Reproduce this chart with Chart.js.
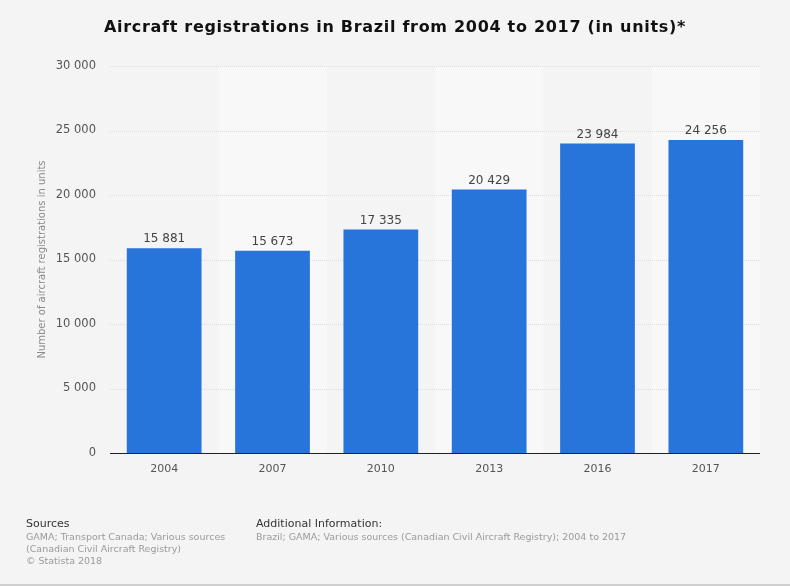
<!DOCTYPE html>
<html>
<head>
<meta charset="utf-8">
<script src="https://cdn.jsdelivr.net/npm/chart.js@4"></script>
<style>
  html, body { margin: 0; padding: 0; background: #f4f4f4; }
  #wrap { position: relative; width: 790px; height: 586px; background: #f4f4f4; font-family: "DejaVu Sans", sans-serif; }
  canvas { position: absolute; left: 0; top: 0; }
  .title { position: absolute; left: 0; top: 17px; width: 790px; text-align: center; font-weight: bold; font-size: 16px; color: #111; letter-spacing: 0.7px; }
  .foot { position: absolute; font-size: 9.5px; color: #9a9a9a; line-height: 12px; }
  .foot .h { font-size: 11px; color: #333; line-height: 14px; }
  .bottomline { position: absolute; left: 0; top: 584px; width: 790px; height: 2px; background: #cfcfcf; }
</style>
</head>
<body>
<div id="wrap">
  <canvas id="c" width="790" height="586"></canvas>
  <div class="title">Aircraft registrations in Brazil from 2004 to 2017 (in units)*</div>
  <div class="foot" style="left:26px; top:517px;"><div class="h">Sources</div>GAMA; Transport Canada; Various sources<br>(Canadian Civil Aircraft Registry)<br>© Statista 2018</div>
  <div class="foot" style="left:256px; top:517px;"><div class="h">Additional Information:</div>Brazil; GAMA; Various sources (Canadian Civil Aircraft Registry); 2004 to 2017</div>
  <div class="bottomline"></div>
</div>
<script>
const categories = ["2004", "2007", "2010", "2013", "2016", "2017"];
const registrations = [15881, 15673, 17335, 20429, 23984, 24256];
const yTicks = [0, 5000, 10000, 15000, 20000, 25000, 30000];

function fmt(v) {
  return String(v).replace(/\B(?=(\d{3})+(?!\d))/g, " ");
}

const bandsPlugin = {
  id: "bands",
  beforeDatasetsDraw(chart) {
    const { ctx, chartArea, scales } = chart;
    const x = scales.x;
    const w = (chartArea.right - chartArea.left) / categories.length;
    ctx.save();
    ctx.fillStyle = "#f8f8f8";
    categories.forEach((c, i) => {
      if (i % 2 === 1) {
        const cx = x.getPixelForValue(i);
        ctx.fillRect(cx - w / 2, chartArea.top, w, chartArea.bottom - chartArea.top);
      }
    });
    const y = scales.y;
    ctx.strokeStyle = "#dcdcdc";
    ctx.lineWidth = 1;
    ctx.setLineDash([1, 1]);
    yTicks.forEach(t => {
      if (t === 0) return;
      const py = Math.round(y.getPixelForValue(t)) + 0.5;
      ctx.beginPath();
      ctx.moveTo(chartArea.left, py);
      ctx.lineTo(chartArea.right, py);
      ctx.stroke();
    });
    ctx.restore();
  },
  afterDatasetsDraw(chart) {
    const { ctx, chartArea, scales } = chart;
    ctx.save();
    const py = Math.round(scales.y.getPixelForValue(0)) + 0.5;
    ctx.strokeStyle = "#222";
    ctx.lineWidth = 1.2;
    ctx.beginPath();
    ctx.moveTo(chartArea.left, py);
    ctx.lineTo(chartArea.right, py);
    ctx.stroke();
    ctx.fillStyle = "#444";
    ctx.font = "12px 'DejaVu Sans'";
    ctx.textAlign = "center";
    ctx.textBaseline = "bottom";
    const meta = chart.getDatasetMeta(0);
    meta.data.forEach((bar, i) => {
      ctx.fillText(fmt(registrations[i]), bar.x, bar.y - 3);
    });
    ctx.restore();
  }
};

new Chart(document.getElementById("c"), {
  type: "bar",
  data: {
    labels: categories,
    datasets: [{
      data: registrations,
      backgroundColor: "#2775db",
      borderWidth: 0,
      categoryPercentage: 0.69,
      barPercentage: 1.0
    }]
  },
  options: {
    responsive: false,
    animation: false,
    devicePixelRatio: 1,
    layout: { padding: { top: 66, left: 36, right: 30, bottom: 103 } },
    plugins: { legend: { display: false }, tooltip: { enabled: false }, title: { display: false } },
    scales: {
      x: {
        grid: { display: false, drawTicks: false },
        border: { display: false },
        ticks: { color: "#555", font: { family: "DejaVu Sans", size: 11 }, padding: 10 },
        afterFit(s) { s.height = 30; }
      },
      y: {
        min: 0, max: 30000,
        afterBuildTicks(s) { s.ticks = yTicks.map(v => ({ value: v })); },
        grid: { display: false, drawTicks: false },
        border: { display: false },
        ticks: { color: "#555", font: { family: "DejaVu Sans", size: 11.5 }, padding: 14, callback: v => fmt(v) },
        title: { display: true, text: "Number of aircraft registrations in units", color: "#8a8a8a", font: { family: "DejaVu Sans", size: 10 }, padding: { top: 0, bottom: 0 } },
        afterFit(s) { s.width = 74; }
      }
    }
  },
  plugins: [bandsPlugin]
});
</script>
</body>
</html>
